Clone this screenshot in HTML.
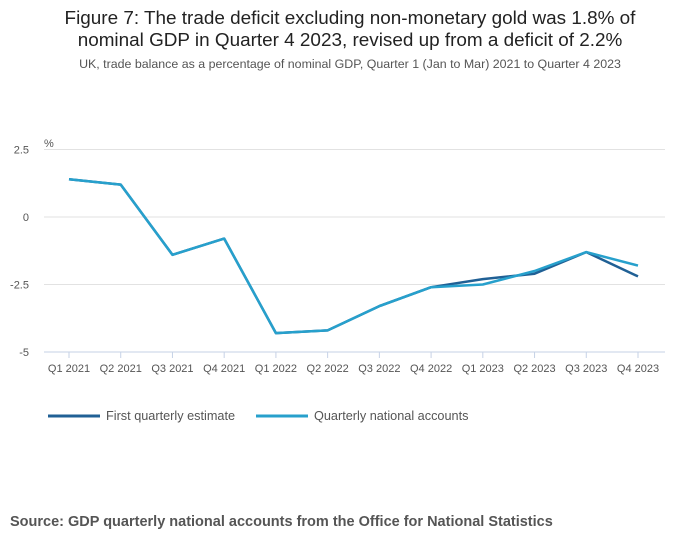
<!DOCTYPE html>
<html><head><meta charset="utf-8"><style>
body{margin:0;background:#fff;font-family:"Liberation Sans",sans-serif;}
</style></head><body>
<svg width="700" height="549" viewBox="0 0 700 549" xmlns="http://www.w3.org/2000/svg">
<text x="350" y="24" text-anchor="middle" font-size="18.9" fill="#222">Figure 7: The trade deficit excluding non-monetary gold was 1.8% of</text>
<text x="350" y="46" text-anchor="middle" font-size="18.9" fill="#222">nominal GDP in Quarter 4 2023, revised up from a deficit of 2.2%</text>
<text x="350" y="68" text-anchor="middle" font-size="12.4" fill="#555">UK, trade balance as a percentage of nominal GDP, Quarter 1 (Jan to Mar) 2021 to Quarter 4 2023</text>
<text x="44" y="147" font-size="11" fill="#555">%</text>
<g id="grid"></g><g id="xaxis"></g><g id="series"></g>
<g>
<line x1="48" y1="416" x2="100" y2="416" stroke="#206095" stroke-width="3"/>
<text x="106" y="420" font-size="12.7" fill="#555">First quarterly estimate</text>
<line x1="256" y1="416" x2="308" y2="416" stroke="#27a0cc" stroke-width="3"/>
<text x="314" y="420" font-size="12.7" fill="#555">Quarterly national accounts</text>
</g>
<text x="10" y="526" font-size="14.5" font-weight="bold" fill="#555">Source: GDP quarterly national accounts from the Office for National Statistics</text>
</svg>
<script>
const categories=["Q1 2021","Q2 2021","Q3 2021","Q4 2021","Q1 2022","Q2 2022","Q3 2022","Q4 2022","Q1 2023","Q2 2023","Q3 2023","Q4 2023"];
const firstEstimate=[1.4,1.2,-1.4,-0.8,-4.3,-4.2,-3.3,-2.6,-2.3,-2.1,-1.3,-2.2];
const qna=[1.4,1.2,-1.4,-0.8,-4.3,-4.2,-3.3,-2.6,-2.5,-2.0,-1.3,-1.8];
const yTicks=[2.5,0,-2.5,-5];
const yTickLabels=["2.5","0","-2.5","-5"];
const NS="http://www.w3.org/2000/svg";
const x=i=>69+i*(638-69)/(categories.length-1);
const y=v=>217-v*(352-217)/5;
function mk(t,a,p){const e=document.createElementNS(NS,t);for(const k in a)e.setAttribute(k,a[k]);p.appendChild(e);return e;}
const grid=document.getElementById('grid');
yTicks.forEach((v,i)=>{
 const l=mk('line',{x1:44,x2:665,y1:y(v),y2:y(v),stroke:v===-5?'#c6d2e6':'#e2e2e2','stroke-width':1},grid);
 
 
 const t=mk('text',{x:29,y:y(v)+4,'text-anchor':'end','font-size':11,fill:'#555'},grid);
 t.textContent=yTickLabels[i];
 
 
});
const xa=document.getElementById('xaxis');
categories.forEach((c,i)=>{
 const l=mk('line',{x1:x(i),x2:x(i),y1:352,y2:358,stroke:'#c6d2e6'},xa);
 
 
 const t=mk('text',{x:x(i),y:372,'text-anchor':'middle','font-size':11,fill:'#555'},xa);
 t.textContent=c;
 
 
});
const s=document.getElementById('series');
[[firstEstimate,'#206095','line-first-estimate'],[qna,'#27a0cc','line-qna']].forEach(([d,col,n])=>{
 const p=mk('polyline',{points:d.map((v,i)=>x(i)+','+y(v)).join(' '),fill:'none',stroke:col,'stroke-width':2.5,'stroke-linejoin':'round'},s);
 
 
});
</script>
</body></html>
